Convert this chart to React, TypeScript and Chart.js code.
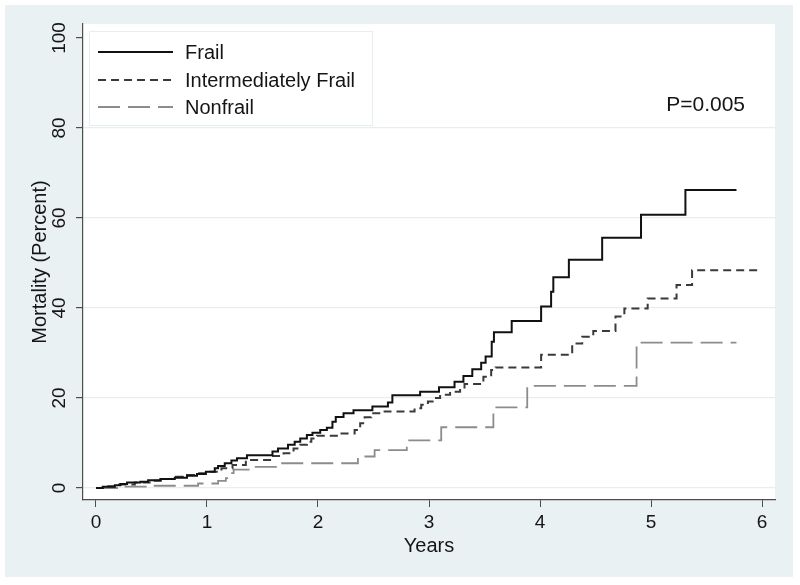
import React, { useEffect, useRef } from 'react';
import { Chart, registerables } from 'chart.js';

Chart.register(...registerables);

// ---- Data ----
const frailYears = [0, 0.06, 0.17, 0.22, 0.28, 0.40, 0.47, 0.58, 0.71, 0.82, 0.91, 0.99, 1.07, 1.10, 1.16, 1.22, 1.27, 1.36, 1.59, 1.64, 1.73, 1.79, 1.84, 1.90, 1.95, 2.02, 2.08, 2.13, 2.16, 2.23, 2.32, 2.49, 2.63, 2.67, 2.92, 3.09, 3.23, 3.31, 3.39, 3.47, 3.51, 3.565, 3.585, 3.745, 4.01, 4.10, 4.12, 4.26, 4.56, 4.91, 5.31, 5.77];
const frailPct = [0, 0.3, 0.6, 0.9, 1.2, 1.4, 1.7, 2.0, 2.3, 2.7, 3.1, 3.6, 4.4, 4.9, 5.5, 6.1, 6.6, 7.3, 8.1, 8.8, 9.6, 10.3, 11.0, 11.8, 12.3, 12.9, 13.4, 14.7, 15.8, 16.6, 17.3, 18.1, 19.0, 20.6, 21.4, 22.4, 23.6, 24.9, 26.4, 27.8, 29.2, 32.5, 34.6, 37.1, 40.3, 43.6, 46.8, 50.7, 55.6, 60.7, 66.2, 66.2];

const interYears = [0, 0.10, 0.20, 0.35, 0.50, 0.62, 0.72, 0.82, 0.92, 1.03, 1.13, 1.23, 1.35, 1.58, 1.69, 1.78, 1.84, 1.90, 1.94, 1.99, 2.17, 2.33, 2.38, 2.42, 2.48, 2.60, 2.87, 2.93, 2.99, 3.05, 3.10, 3.19, 3.28, 3.32, 3.49, 3.56, 3.60, 4.01, 4.29, 4.38, 4.48, 4.68, 4.76, 4.97, 5.23, 5.37, 6.00];
const interPct = [0, 0.4, 0.8, 1.2, 1.6, 2.0, 2.5, 2.9, 3.3, 3.6, 4.4, 5.1, 6.2, 7.1, 7.7, 8.8, 9.6, 10.3, 11.0, 11.6, 12.1, 12.9, 14.4, 15.7, 16.6, 17.0, 17.7, 18.5, 19.2, 20.0, 20.7, 21.4, 22.1, 23.1, 24.7, 26.2, 26.8, 29.6, 32.1, 33.6, 34.9, 38.1, 39.9, 42.1, 45.1, 48.4, 48.4];

const nonfrailYears = [0, 0.25, 0.50, 0.92, 1.10, 1.17, 1.20, 1.24, 1.39, 1.63, 2.36, 2.51, 2.80, 3.11, 3.58, 3.885, 4.87, 5.77];
const nonfrailPct = [0, 0.3, 0.5, 1.0, 1.6, 2.2, 3.3, 4.1, 4.7, 5.5, 7.0, 8.4, 10.6, 13.5, 17.9, 22.7, 32.3, 32.3];

const xTicks = [0, 1, 2, 3, 4, 5, 6];
const yTicks = [0, 20, 40, 60, 80, 100];
const seriesNames = ['Frail', 'Intermediately Frail', 'Nonfrail'];
const pValueText = 'P=0.005';
const xTitle = 'Years';
const yTitle = 'Mortality (Percent)';

const FONT = '"Liberation Sans", Arial, Helvetica, sans-serif';
const TEXT = '#151515';
const AXIS = '#4d4d4d';
const GRID = '#e6eef0';

const toPoints = (xs: number[], ys: number[]) => xs.map((x, i) => ({ x, y: ys[i] }));

export default function App() {
  const ref = useRef<HTMLCanvasElement | null>(null);

  useEffect(() => {
    const canvas = ref.current;
    if (!canvas) return;

    const styles = [
      { color: '#111111', dash: [] as number[], width: 2 },
      { color: '#3a3a3a', dash: [8, 5], width: 2 },
      { color: '#8c8c8c', dash: [22, 8], width: 1.8 },
    ];

    const bgPlugin = {
      id: 'bgPanel',
      beforeDraw(chart: any) {
        const { ctx, chartArea: a } = chart;
        ctx.save();
        ctx.fillStyle = '#ffffff';
        ctx.fillRect(0, 0, chart.width, chart.height);
        ctx.fillStyle = '#eaf1f3';
        ctx.fillRect(5, 5, 788, 572);
        ctx.fillStyle = '#ffffff';
        ctx.fillRect(a.left, a.top, a.right - a.left, a.bottom - a.top);
        ctx.restore();
      },
    };

    const overlayPlugin = {
      id: 'overlay',
      afterDraw(chart: any) {
        const { ctx } = chart;
        const ys = chart.scales.y;
        ctx.save();
        // rotated y tick labels
        ctx.fillStyle = TEXT;
        ctx.font = `19px ${FONT}`;
        ctx.textAlign = 'center';
        ctx.textBaseline = 'middle';
        ys.ticks.forEach((t: any) => {
          const py = ys.getPixelForValue(t.value);
          ctx.save();
          ctx.translate(60, py);
          ctx.rotate(-Math.PI / 2);
          ctx.fillText(String(t.value), 0, 0);
          ctx.restore();
        });

        // legend box
        ctx.fillStyle = '#ffffff';
        ctx.fillRect(89, 31, 283, 94);
        ctx.strokeStyle = GRID;
        ctx.lineWidth = 1;
        ctx.strokeRect(89.5, 31.5, 283, 94);
        const rows = [52, 80, 107];
        seriesNames.forEach((name, i) => {
          const s = styles[i];
          ctx.beginPath();
          ctx.setLineDash(s.dash);
          ctx.strokeStyle = s.color;
          ctx.lineWidth = s.width;
          ctx.moveTo(98, rows[i]);
          ctx.lineTo(173, rows[i]);
          ctx.stroke();
          ctx.setLineDash([]);
          ctx.fillStyle = TEXT;
          ctx.font = `20px ${FONT}`;
          ctx.textAlign = 'left';
          ctx.textBaseline = 'middle';
          ctx.fillText(name, 185, rows[i] + 1);
        });

        // p-value
        ctx.font = `21px ${FONT}`;
        ctx.textAlign = 'right';
        ctx.textBaseline = 'middle';
        ctx.fillStyle = TEXT;
        ctx.fillText(pValueText, 745, 105);
        ctx.restore();
      },
    };

    const datasets = [
      { label: seriesNames[0], data: toPoints(frailYears, frailPct) },
      { label: seriesNames[1], data: toPoints(interYears, interPct) },
      { label: seriesNames[2], data: toPoints(nonfrailYears, nonfrailPct) },
    ].map((d, i) => ({
      ...d,
      borderColor: styles[i].color,
      borderDash: styles[i].dash,
      borderWidth: styles[i].width,
      stepped: 'before' as const,
      pointRadius: 0,
      fill: false,
      tension: 0,
      borderCapStyle: 'butt' as const,
    }));

    const chart = new Chart(canvas, {
      type: 'line',
      data: { datasets },
      options: {
        animation: false,
        responsive: false,
        devicePixelRatio: 1,
        layout: { padding: { top: 24, right: 25, left: 0, bottom: 0 } },
        plugins: { legend: { display: false }, tooltip: { enabled: false } },
        scales: {
          x: {
            type: 'linear',
            min: -0.117,
            max: 6.117,
            afterBuildTicks: (s: any) => { s.ticks = xTicks.map((v) => ({ value: v })); },
            afterFit: (s: any) => { s.height = 85; },
            grid: { drawOnChartArea: false, drawTicks: true, tickLength: 7, tickColor: AXIS },
            border: { display: true, color: AXIS, width: 1.2 },
            ticks: {
              autoSkip: false,
              maxRotation: 0,
              minRotation: 0,
              padding: 4,
              color: TEXT,
              font: { family: FONT, size: 19 },
            },
            title: {
              display: true,
              text: xTitle,
              color: TEXT,
              font: { family: FONT, size: 20 },
              padding: { top: 0, bottom: 27 },
            },
          },
          y: {
            type: 'linear',
            min: -2.67,
            max: 103.1,
            afterBuildTicks: (s: any) => { s.ticks = yTicks.map((v) => ({ value: v })); },
            afterFit: (s: any) => { s.width = 83; },
            grid: {
              drawOnChartArea: true,
              drawTicks: true,
              tickLength: 7,
              tickColor: AXIS,
              color: (c: any) => (c.tick && c.tick.value === 100 ? 'rgba(0,0,0,0)' : GRID),
              lineWidth: 1.2,
            },
            border: { display: true, color: AXIS, width: 1.2 },
            ticks: { display: false },
            title: {
              display: true,
              text: yTitle,
              color: TEXT,
              font: { family: FONT, size: 20 },
              padding: { top: 28, bottom: 0 },
            },
          },
        },
      },
      plugins: [bgPlugin, overlayPlugin],
    } as any);

    return () => chart.destroy();
  }, []);

  return (
    <div style={{ position: 'absolute', left: 0, top: 0, width: 800, height: 585 }}>
      <canvas ref={ref} width={800} height={585} style={{ display: 'block', width: 800, height: 585 }} />
    </div>
  );
}
